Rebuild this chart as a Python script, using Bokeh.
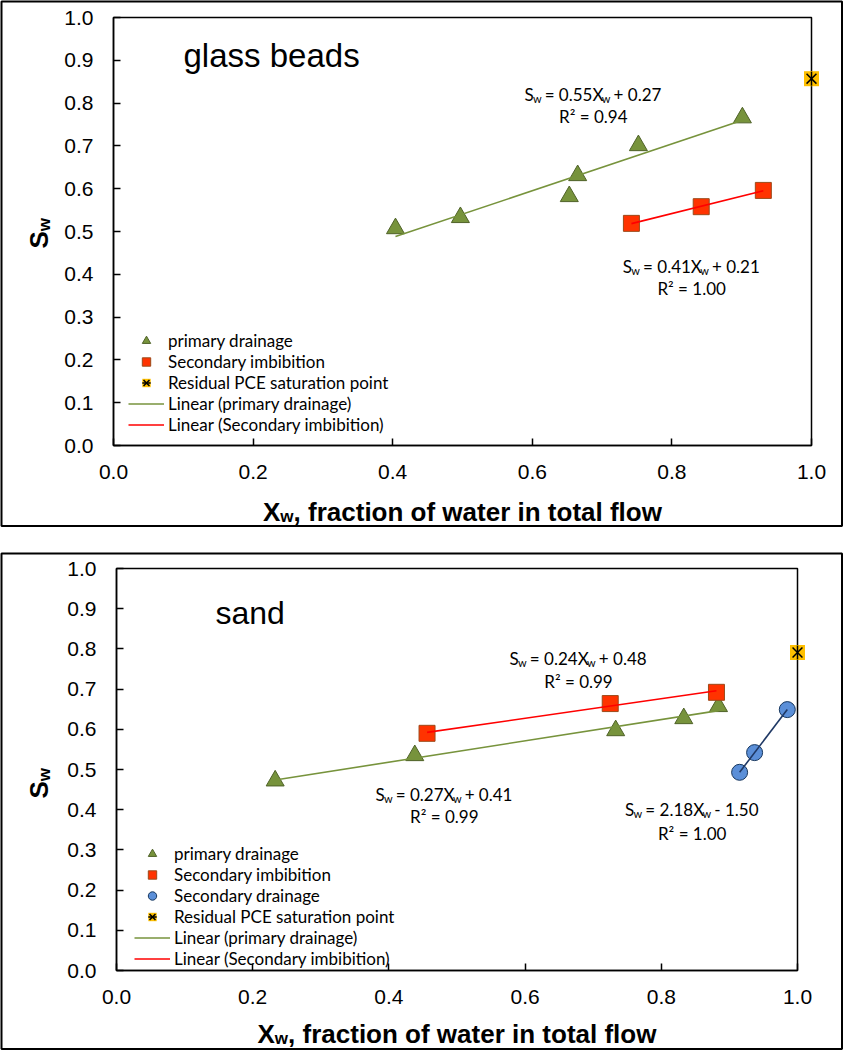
import numpy as np
from bokeh.plotting import figure
from bokeh.models import (Range1d, FixedTicker, PrintfTickFormatter, Legend,
                          LegendItem, Label, Spacer)
from bokeh.layouts import column, row
from bokeh.core.properties import value
from bokeh.embed import file_html
from bokeh.resources import INLINE

# ---------------- data: glass beads ----------------
gb_pd_x = [0.404, 0.497, 0.653, 0.665, 0.752, 0.901]
gb_pd_y = [0.507, 0.533, 0.582, 0.631, 0.701, 0.766]
gb_si_x = [0.742, 0.842, 0.931]
gb_si_y = [0.519, 0.558, 0.596]
gb_res_x = [1.0]
gb_res_y = [0.857]
gb_eq_slope = ["0.55", "0.41"]
gb_eq_icpt = [" + 0.27", " + 0.21"]
gb_eq_r2 = ["0.94", "1.00"]

# ---------------- data: sand ----------------
sd_pd_x = [0.233, 0.438, 0.733, 0.833, 0.884]
sd_pd_y = [0.472, 0.535, 0.597, 0.627, 0.657]
sd_si_x = [0.456, 0.725, 0.881]
sd_si_y = [0.590, 0.664, 0.692]
sd_sdr_x = [0.915, 0.937, 0.985]
sd_sdr_y = [0.493, 0.542, 0.649]
sd_res_x = [1.0]
sd_res_y = [0.791]
sd_eq_slope = ["0.24", "0.27", "2.18"]
sd_eq_icpt = [" + 0.48", " + 0.41", " - 1.50"]
sd_eq_r2 = ["0.99", "0.99", "1.00"]

x_ticks = [0.0, 0.2, 0.4, 0.6, 0.8, 1.0]
y_ticks = [0.0, 0.1, 0.2, 0.3, 0.4, 0.5, 0.6, 0.7, 0.8, 0.9, 1.0]
x_title_rest = ", fraction of water in total flow"

# annotation anchor positions (data units): x centre, eq line y, R2 line y
gb_eq_pos = [(0.686, 0.834, 0.783), (0.827, 0.432, 0.381)]
sd_eq_pos = [(0.677, 0.791, 0.734), (0.480, 0.453, 0.398), (0.844, 0.415, 0.356)]

# ---------------- styles ----------------
TRI_FILL, TRI_LINE = "#77933C", "#4F6228"
SQ_FILL, SQ_LINE = "#FF3300", "#9C4A1A"
CI_FILL, CI_LINE = "#5B8FD8", "#17375E"
RES_FILL = "#FFC000"
GREEN, RED, NAVY = "#77933C", "#FF0000", "#1F3864"

LATO_W = {' ': 0.193, '=': 0.58, '+': 0.58, '-': 0.37, '.': 0.232, 'S': 0.50,
          'X': 0.62, 'R': 0.61, '\u00b2': 0.37, 'w': 0.77}


def lato_width(s, size):
    return sum(LATO_W.get(c, 0.58) for c in s) * size


def rich(p, x, y, pieces, size=17):
    sub = round(size * 0.65)
    widths = [lato_width(t, sub if s else size) for t, s in pieces]
    off = -sum(widths) / 2
    for (t, s), w in zip(pieces, widths):
        fs = sub if s else size
        lead = len(t) - len(t.lstrip(" "))
        p.text(x=[x], y=[y], text=[t.strip(" ")], x_offset=off + lato_width(" " * lead, fs),
               y_offset=(10 if s else 6),
               text_font=value("Lato"), text_font_size=f"{fs}px",
               text_align="left", text_baseline="alphabetic", text_color="black")
        off += w


def equations(p, pos, slopes, icpts, r2s):
    for (x, ye, yr), sl, ic, r2 in zip(pos, slopes, icpts, r2s):
        rich(p, x, ye, [("S", 0), ("w", 1), (" = " + sl + "X", 0), ("w", 1), (ic, 0)])
        rich(p, x, yr, [("R\u00b2 = " + r2, 0)])


def make_fig(width, height, left, right, top, bottom):
    p = figure(width=width, height=height, x_range=Range1d(0, 1), y_range=Range1d(0, 1),
               output_backend="svg", toolbar_location=None,
               min_border_left=left, min_border_right=right,
               min_border_top=top, min_border_bottom=bottom)
    p.xgrid.visible = False
    p.ygrid.visible = False
    p.outline_line_color = "black"
    p.outline_line_width = 1.5
    p.outline_line_alpha = 1.0
    for ax in (p.xaxis[0], p.yaxis[0]):
        ax.axis_line_color = "black"
        ax.axis_line_width = 1.5
        ax.major_tick_in = 7
        ax.major_tick_out = 0
        ax.major_tick_line_color = "black"
        ax.major_tick_line_width = 1.5
        ax.minor_tick_line_color = None
        ax.major_label_text_font = "Liberation Sans"
        ax.major_label_text_font_size = "21px"
        ax.major_label_text_color = "black"
        ax.formatter = PrintfTickFormatter(format="%.1f")
    p.xaxis.ticker = FixedTicker(ticks=x_ticks)
    p.yaxis.ticker = FixedTicker(ticks=y_ticks)
    p.xaxis.major_label_standoff = 19
    p.yaxis.major_label_standoff = 20
    # outer box of the panel, drawn unclipped (canvas edges expressed through the frame scale)
    fw = width - left - right
    fh = height - top - bottom
    p.quad(left=[(1 - left) / fw], right=[(width - 1.5 - left) / fw],
           bottom=[-(bottom - 1.5) / fh], top=[1 + (top - 1) / fh],
           fill_color=None, line_color="black", line_width=2, level="annotation")
    return p


def axis_titles(p, fw, xt_below, ylab_dx, ylab_up):
    big, small = 26, 17
    wX = 0.667 * big
    ww = 0.778 * small
    wrest = 14.169 * big
    x0 = fw / 2 - (wX + ww + wrest) / 2
    common = dict(text_font=value("Liberation Sans"), text_font_style="bold",
                  text_color="black", text_align="left", text_baseline="alphabetic",
                  level="annotation")
    p.text(x=[0], y=[0], text=["X"], x_offset=x0, y_offset=xt_below,
           text_font_size=f"{big}px", **common)
    p.text(x=[0], y=[0], text=["w"], x_offset=x0 + wX, y_offset=xt_below + 5,
           text_font_size=f"{small}px", **common)
    p.text(x=[0], y=[0], text=[x_title_rest.strip()], x_offset=x0 + wX + ww, y_offset=xt_below,
           text_font_size=f"{big}px", **common)
    wS = 0.667 * big
    p.text(x=[0], y=[0], text=["S"], angle=np.pi / 2, x_offset=ylab_dx, y_offset=-ylab_up,
           text_font_size=f"{big}px", **common)
    p.text(x=[0], y=[0], text=["w"], angle=np.pi / 2, x_offset=ylab_dx + 6,
           y_offset=-(ylab_up + wS), text_font_size=f"{small}px", **common)


def fit_line(p, xs, ys, color):
    m, b = np.polyfit(xs, ys, 1)
    xx = np.array([min(xs), max(xs)])
    return p.line(xx, m * xx + b, line_color=color, line_width=1.6)


def residual(p, xs, ys):
    r1 = p.scatter(xs, ys, marker="square", size=15, fill_color=RES_FILL, line_color=None)
    r2 = p.scatter(xs, ys, marker="x", size=14, line_color="black", line_width=1.5)
    r3 = p.scatter(xs, ys, marker="dash", size=14, angle=np.pi / 2, line_color="black", line_width=1.5)
    for r in (r1, r2, r3):
        r.level = "annotation"
    return [r1, r2, r3]


def legend(p, items, loc):
    lg = Legend(items=items, location=loc, glyph_width=36, glyph_height=21, spacing=0,
                label_standoff=4, padding=0, margin=0, border_line_color=None,
                background_fill_alpha=0, label_text_font="Lato",
                label_text_font_size="17px", label_height=21, label_text_color="black")
    p.add_layout(lg)


# ---------------- top panel: glass beads ----------------
p1 = make_fig(843, 527, 113, 32, 17, 82)
t1 = p1.scatter(gb_pd_x, gb_pd_y, marker="triangle", size=18, fill_color=TRI_FILL, line_color=TRI_LINE)
s1 = p1.scatter(gb_si_x, gb_si_y, marker="square", size=16, fill_color=SQ_FILL, line_color=SQ_LINE)
l1 = fit_line(p1, gb_pd_x, gb_pd_y, GREEN)
l2 = fit_line(p1, gb_si_x, gb_si_y, RED)
res1 = residual(p1, gb_res_x, gb_res_y)
equations(p1, gb_eq_pos, gb_eq_slope, gb_eq_icpt, gb_eq_r2)
p1.add_layout(Label(x=0.1003, y=0.911, text="glass beads", text_font="Liberation Sans",
                    text_font_size="33px", text_color="black", text_baseline="alphabetic"))
axis_titles(p1, 698, 66, 38 - 113, 197)
legend(p1, [LegendItem(label="primary drainage", renderers=[t1]),
            LegendItem(label="Secondary imbibition", renderers=[s1]),
            LegendItem(label="Residual PCE saturation point", renderers=res1),
            LegendItem(label="Linear (primary drainage)", renderers=[l1]),
            LegendItem(label="Linear (Secondary imbibition)", renderers=[l2])], (15, 10))

# ---------------- bottom panel: sand ----------------
p2 = make_fig(843, 498, 116, 46, 16, 80)
t2 = p2.scatter(sd_pd_x, sd_pd_y, marker="triangle", size=18, fill_color=TRI_FILL, line_color=TRI_LINE)
s2 = p2.scatter(sd_si_x, sd_si_y, marker="square", size=16, fill_color=SQ_FILL, line_color=SQ_LINE)
c2 = p2.scatter(sd_sdr_x, sd_sdr_y, marker="circle", size=16, fill_color=CI_FILL, line_color=CI_LINE)
l3 = fit_line(p2, sd_pd_x, sd_pd_y, GREEN)
l4 = fit_line(p2, sd_si_x, sd_si_y, RED)
fit_line(p2, sd_sdr_x, sd_sdr_y, NAVY)
res2 = residual(p2, sd_res_x, sd_res_y)
equations(p2, sd_eq_pos, sd_eq_slope, sd_eq_icpt, sd_eq_r2)
p2.add_layout(Label(x=0.1454, y=0.8905, text="sand", text_font="Liberation Sans",
                    text_font_size="32px", text_color="black", text_baseline="alphabetic"))
axis_titles(p2, 681, 63, 38 - 116, 172)
legend(p2, [LegendItem(label="primary drainage", renderers=[t2]),
            LegendItem(label="Secondary imbibition", renderers=[s2]),
            LegendItem(label="Secondary drainage", renderers=[c2]),
            LegendItem(label="Residual PCE saturation point", renderers=res2),
            LegendItem(label="Linear (primary drainage)", renderers=[l3]),
            LegendItem(label="Linear (Secondary imbibition)", renderers=[l4])], (18, 1))

layout = column(row(p1), Spacer(width=843, height=25), row(p2))
open("out.html", "w").write(file_html(layout, INLINE))
